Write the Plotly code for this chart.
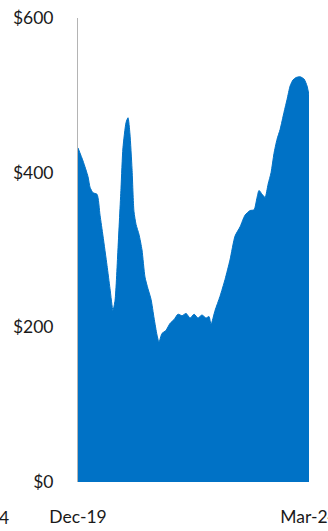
import plotly.graph_objects as go

# values (USD), roughly weekly/monthly samples
dates = ['2019-12-01', '2020-01-04', '2020-02-06', '2020-02-20', '2020-03-11', '2020-04-07',
         '2020-04-27', '2020-05-17', '2020-06-13', '2020-07-03', '2020-07-23', '2020-08-06',
         '2020-08-26', '2020-09-15', '2020-09-28', '2020-10-19', '2020-11-01', '2020-11-14',
         '2020-11-28', '2020-12-11', '2020-12-25', '2021-01-14', '2021-02-03', '2021-02-23',
         '2021-03-15', '2021-04-05', '2021-04-25', '2021-05-15', '2021-05-28', '2021-06-17',
         '2021-07-14', '2021-08-10', '2021-09-06', '2021-10-03', '2021-10-30', '2021-11-26',
         '2021-12-23', '2022-01-19', '2022-02-14', '2022-03-13', '2022-04-09', '2022-04-29',
         '2022-05-13', '2022-06-09', '2022-07-12', '2022-08-15', '2022-09-17', '2022-10-21',
         '2022-11-24', '2022-12-27', '2023-01-30', '2023-02-26', '2023-03-18', '2023-03-31',
         '2023-04-21', '2023-05-11', '2023-05-31', '2023-06-20', '2023-07-10', '2023-07-30',
         '2023-08-20', '2023-09-15', '2023-10-06', '2023-10-26', '2023-11-15', '2023-12-05',
         '2024-01-01', '2024-01-28', '2024-02-17', '2024-03-01']
price = [432, 415, 395, 381, 374, 372,
         345, 318, 280, 250, 222, 235,
         303, 380, 432, 465, 471, 450,
         405, 350, 333, 320, 300, 265,
         250, 236, 212, 190, 181, 192,
         196, 205, 210, 217, 215, 218,
         212, 217, 212, 216, 212, 214,
         204, 222, 240, 262, 287, 318,
         330, 345, 351, 352, 368, 377,
         372, 368, 385, 400, 425, 443,
         456, 478, 495, 512, 520, 523,
         524, 521, 512, 500]

tick_dates = ['2019-12-01', '2024-03-01']
tick_text = ['Dec-19', 'Mar-24']
y_ticks = [0, 200, 400, 600]
y_text = ['$0', '$200', '$400', '$600']

blue = '#0072C6'
font = dict(family='Lato, Open Sans, sans-serif', size=17.5, color='#1a1a1a')

fig = go.Figure()
fig.add_trace(go.Scatter(
    x=dates, y=price,
    mode='lines',
    line=dict(color=blue, width=1, shape='spline', smoothing=0.6),
    fill='tozeroy', fillcolor=blue,
    hoverinfo='skip',
))

fig.update_layout(
    width=328, height=531,
    margin=dict(l=78, r=19, t=18, b=49),
    paper_bgcolor='white', plot_bgcolor='white',
    showlegend=False,
    font=font,
    xaxis=dict(
        type='date',
        range=[tick_dates[0], tick_dates[-1]],
        tickvals=tick_dates, ticktext=tick_text,
        showgrid=False, zeroline=False, showline=False,
        ticks='', ticklabelstandoff=22, automargin=False,
        ticklabeloverflow='allow',
    ),
    yaxis=dict(
        range=[0, 600],
        tickvals=y_ticks, ticktext=y_text,
        showgrid=False, zeroline=False,
        showline=True, linecolor='#b4b4b4', linewidth=1,
        ticks='', ticklabelstandoff=20, automargin=False,
    ),
    # left-over, cut-off label at the left edge of the reference
    annotations=[dict(text='4', xref='paper', yref='paper', x=-81 / 231, y=-35 / 464,
                      xanchor='left', yanchor='middle', showarrow=False, font=font)],
)

# body margin off so the figure fills the window exactly
fig.write_html("out.html", config={'displayModeBar': False},
               post_script="document.body.style.margin='0';")
